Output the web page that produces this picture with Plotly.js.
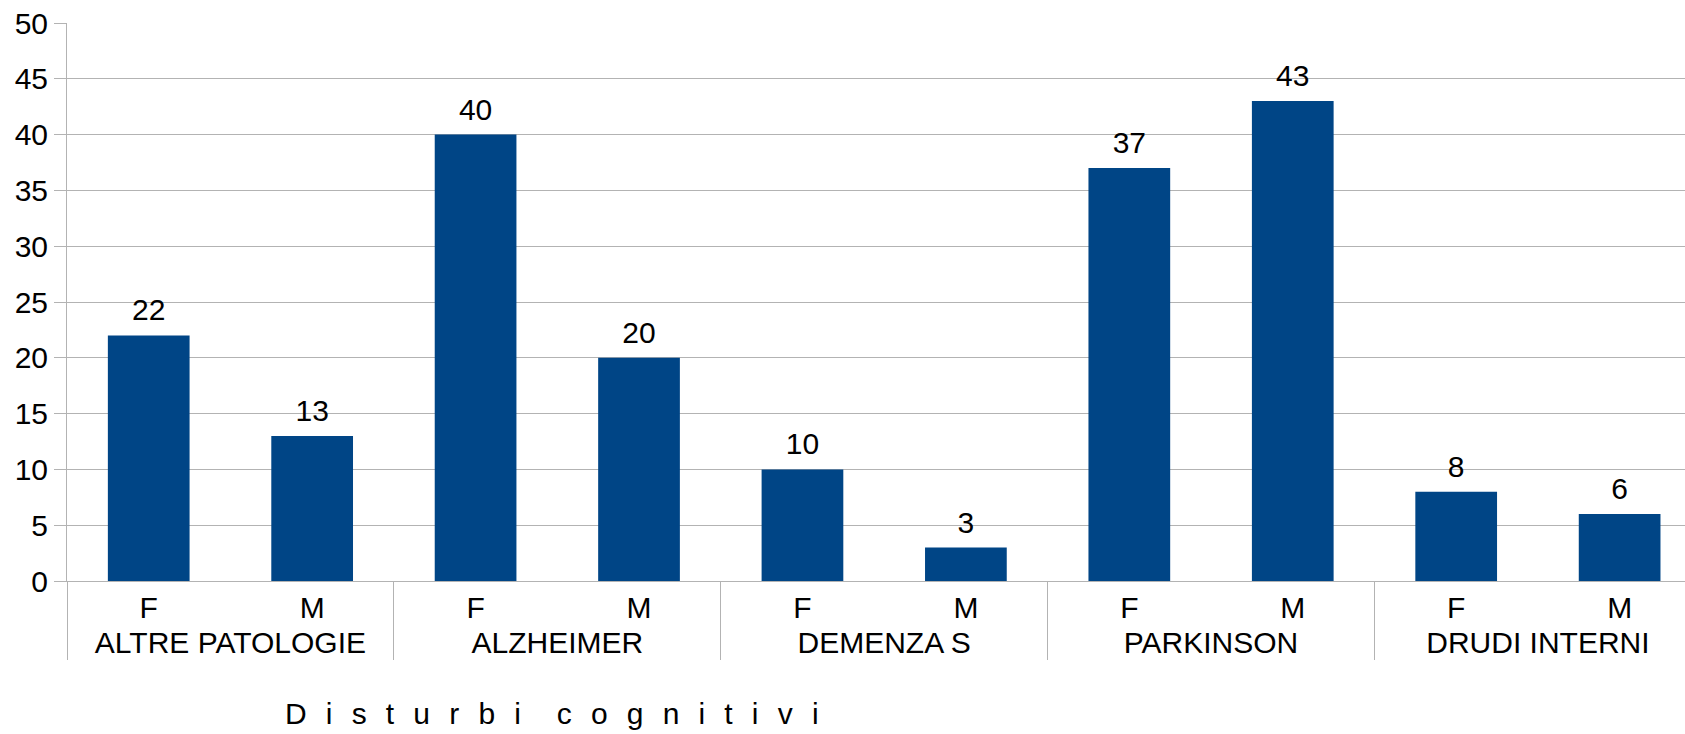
<!DOCTYPE html>
<html>
<head>
<meta charset="utf-8">
<script src="https://cdn.plot.ly/plotly-3.0.1.min.js"></script>
<style>html,body{margin:0;padding:0;background:#fff;overflow:hidden;}</style>
</head>
<body>
<div id="chart" style="width:1685px;height:734px;"></div>
<script>
const categories = ['ALTRE PATOLOGIE', 'ALZHEIMER', 'DEMENZA S', 'PARKINSON', 'DRUDI INTERNI'];
const sexLabels = ['F', 'M'];
const valuesF = [22, 40, 10, 37, 8];
const valuesM = [13, 20, 3, 43, 6];
const axisTitle = 'Disturbi cognitivi';

const outer = [], inner = [], vals = [];
categories.forEach((c, i) => {
  outer.push(c, c);
  inner.push(sexLabels[0], sexLabels[1]);
  vals.push(valuesF[i], valuesM[i]);
});

const LETTER_GAP = '\u00a0\u00a0\u200a';
const WORD_GAP = '\u00a0\u00a0\u00a0\u00a0\u200a';
const spaced = axisTitle.split(' ').map(w => w.split('').join(LETTER_GAP)).join(WORD_GAP);

const FONT = 'Liberation Sans, Arial, sans-serif';
const GRID = '#b3b3b3';

Plotly.newPlot('chart', [{
  type: 'bar',
  x: [outer, inner],
  y: vals,
  marker: {color: '#004586'},
  hoverinfo: 'none'
}, {
  type: 'scatter',
  mode: 'markers+text',
  x: [outer, inner],
  y: vals,
  marker: {size: 10.4, color: 'rgba(0,0,0,0)'},
  text: vals.map(String),
  textposition: 'top center',
  textfont: {size: 30, color: '#000', family: FONT},
  cliponaxis: false,
  hoverinfo: 'none'
}], {
  width: 1685, height: 734,
  margin: {l: 67, r: 0, t: 23, b: 153},
  paper_bgcolor: '#fff', plot_bgcolor: '#fff',
  font: {family: FONT, size: 30, color: '#000'},
  bargap: 0.5,
  showlegend: false,
  xaxis: {
    type: 'multicategory',
    range: [-0.5, 9.4],
    showline: true, linecolor: GRID, linewidth: 1,
    showgrid: false, ticks: '',
    showdividers: true, dividercolor: GRID, dividerwidth: 1,
    tickfont: {size: 30, color: '#000', family: FONT}
  },
  yaxis: {
    range: [0, 50], dtick: 5,
    showline: true, linecolor: GRID, linewidth: 1,
    gridcolor: GRID, gridwidth: 1,
    ticks: 'outside', ticklen: 12, tickcolor: GRID,
    tickfont: {size: 30, color: '#000', family: FONT},
    zeroline: false
  },
  annotations: [{
    text: spaced, xref: 'paper', yref: 'paper',
    x: 0.2998, y: -0.238, xanchor: 'center', yanchor: 'middle',
    showarrow: false, font: {size: 30, color: '#000', family: FONT}
  }]
}, {displayModeBar: false, staticPlot: true});
</script>
</body>
</html>
